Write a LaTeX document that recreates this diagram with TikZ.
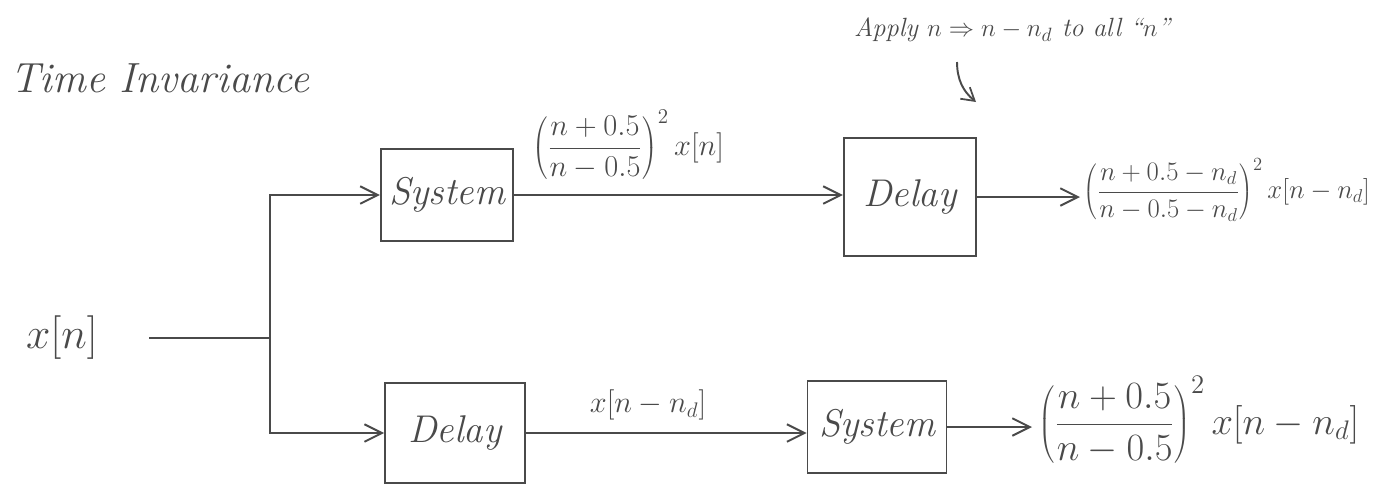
\documentclass[tikz,border=0pt]{standalone}
\usepackage{graphicx}
\usetikzlibrary{arrows.meta}
\definecolor{ink}{HTML}{4A4A4A}
\begin{document}
\begin{tikzpicture}[x=0.02cm,y=-0.02cm,
  every node/.style={text=ink},
  blockbox/.style={draw=ink,line width=1.1pt,minimum width=2.65cm,minimum height=1.85cm,font=\fontsize{22}{26}\selectfont\itshape},
  conn/.style={draw=ink,line width=1.1pt},
  arr/.style={conn,-{Straight Barb[length=3.5mm,width=3.5mm,line width=1.1pt]}},
  lbl/.style={font=\fontsize{18}{22}\selectfont},
  ]
\useasboundingbox (0,0) rectangle (1388,488);
% titles
\node[font=\fontsize{24}{28}\selectfont\itshape,anchor=west] (title) at (4,78) {Time Invariance};
\node[font=\fontsize{15}{18}\selectfont\itshape,anchor=west] (apply) at (848,30) {Apply $n \Rightarrow n-n_d$ to all ``$n$''};
\coordinate (applystart) at (957,62);
\coordinate (applytip) at (976,102);
\draw[conn,-{Straight Barb[length=2.5mm,width=3mm,line width=1pt]}] (applystart) to[bend right=25] (applytip);
% input
\node[font=\fontsize{24}{28}\selectfont] (xn) at (62,338) {$x[n]$};
\coordinate (j) at (270,338);
% top row
\node[blockbox] (sys1) at (447,195) {System};
\node[blockbox,minimum height=2.36cm] (del1) at (910,197) {Delay};
\node[lbl] (l1) at (628,145) {$\displaystyle\left(\frac{n+0.5}{n-0.5}\right)^{2} x[n]$};
\node[lbl,anchor=west,inner sep=2pt] (out1) at (1080,190) {\scalebox{0.88}{$\displaystyle\left(\frac{n+0.5-n_d}{n-0.5-n_d}\right)^{2} x[n-n_d]$}};
% bottom row
\node[blockbox,minimum width=2.8cm,minimum height=2.0cm] (del2) at (455,433) {Delay};
\node[blockbox,minimum width=2.78cm] (sys2) at (877,427) {System};
\node[lbl] (l2) at (648,405) {$x[n-n_d]$};
\node[font=\fontsize{20}{24}\selectfont,anchor=west] (out2) at (1032,420) {\scalebox{1.06}{$\displaystyle\left(\frac{n+0.5}{n-0.5}\right)^{2} x[n-n_d]$}};
% connectors
\draw[conn] ([xshift=0.9cm]xn.east) -- (j);
\draw[arr] (j) |- (sys1.west);
\draw[arr] (j) |- (del2.west);
\draw[arr] (sys1.east) -- (sys1.east -| del1.west);
\draw[arr] (del1.east) -- (del1.east -| out1.west);
\draw[arr] (del2.east) -- (del2.east -| sys2.west);
\draw[arr] (sys2.east) -- (sys2.east -| out2.west);
\end{tikzpicture}
\end{document}
